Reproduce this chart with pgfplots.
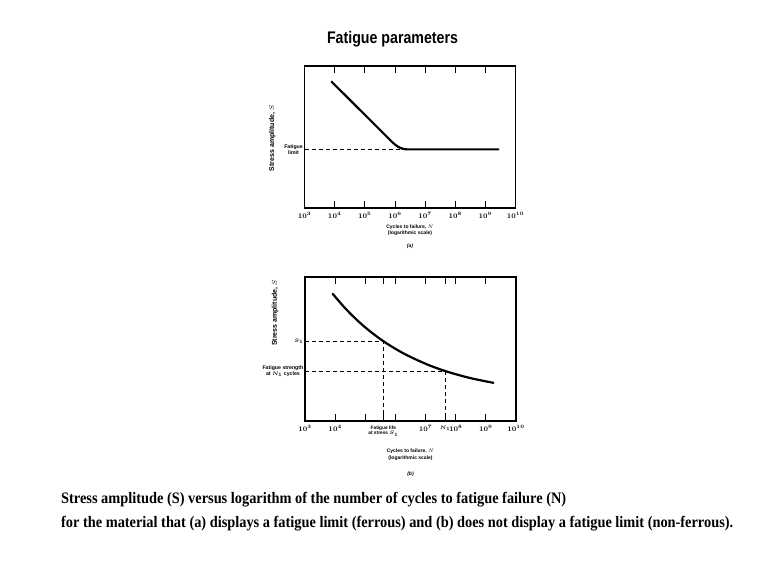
\documentclass[border=0pt]{standalone}
\usepackage{pgfplots}
\pgfplotsset{compat=1.18}
\usepackage{fontspec}
\setmainfont{Liberation Serif}
\setsansfont{Liberation Sans}
\newfontfamily\capfont{Liberation Serif}
\usepackage{graphicx}

\tikzset{
  dashline/.style={black, line width=0.9pt, dash pattern=on 4pt off 3pt},
  curveline/.style={black, line width=2.2pt, line join=round, line cap=round},
}

\begin{document}
\begin{tikzpicture}
\path[use as bounding box] (0pt,0pt) rectangle (767pt,-580pt);

\node[anchor=base, inner sep=0pt, font=\sffamily\bfseries\fontsize{16.8}{18}\selectfont] at (392.5pt,-44pt) {\scalebox{0.845}[1]{Fatigue parameters}};

% (a) with fatigue limit
\begin{axis}[
  xmode=log, log basis x=10,
  at={(304.5pt,-208pt)}, anchor=south west,
  scale only axis, width=211pt, height=142pt,
  xmin=1e3, xmax=1e10, ymin=0, ymax=1,
  xtick={1e3,1e4,1e5,1e6,1e7,1e8,1e9,1e10},
  minor x tick num=0, xminorticks=false,
  major tick length=7pt,
  axis line style={line width=1.1pt},
  xtick style={black, line width=0.8pt},
  ytick style={draw=none},
  xticklabel style={font=\fontsize{7}{8}\selectfont\boldmath, inner sep=1.5pt, yshift=-3pt},
  xlabel style={font=\sffamily\bfseries\fontsize{5}{6.5}\selectfont, align=center, inner sep=1pt, yshift=-3pt},
  ylabel style={font=\sffamily\bfseries\fontsize{7}{7}\selectfont, anchor=center, at={(axis description cs:-0.152,0.49)}},
  yticklabel style={align=center, font=\sffamily\bfseries\fontsize{5.2}{6}\selectfont, inner sep=1.5pt},
  ytick={0.413}, yticklabels={Fatigue\\limit},
  xlabel={Cycles to failure, $N$\\(logarithmic scale)\\[6pt]\textit{(a)}},
  ylabel={Stress amplitude, $S$},
]
\addplot[curveline] coordinates {(7943,0.889) (100000,0.657) (803526,0.465) (1000000,0.447) (1258925,0.432) (1584893,0.4215) (1995262,0.415) (2511886,0.413) (2.69e9,0.413)};
\addplot[dashline] coordinates {(1e3,0.413) (2511886,0.413)};
\end{axis}

% (b) without fatigue limit
\begin{axis}[
  xmode=log, log basis x=10,
  at={(305pt,-421pt)}, anchor=south west,
  scale only axis, width=211pt, height=144pt,
  xmin=1e3, xmax=1e10, ymin=0, ymax=1,
  xtick={1e3,1e4,1e5,1e6,1e7,1e8,1e9,1e10},
  minor x tick num=0, xminorticks=false,
  major tick length=7pt,
  axis line style={line width=1.1pt},
  xtick style={black, line width=0.8pt},
  ytick style={draw=none},
  xticklabel style={font=\fontsize{7}{8}\selectfont\boldmath, inner sep=1.5pt, yshift=-3pt},
  xlabel style={font=\sffamily\bfseries\fontsize{5}{6.5}\selectfont, align=center, inner sep=1pt, yshift=-10pt},
  ylabel style={font=\sffamily\bfseries\fontsize{7}{7}\selectfont, anchor=center, at={(axis description cs:-0.142,0.75)}},
  yticklabel style={align=center, font=\sffamily\bfseries\fontsize{5.2}{6}\selectfont\boldmath, inner sep=1.5pt},
  xticklabels={$10^3$,$10^4$,{},{},$10^7$,$10^8$,$10^9$,$10^{10}$},
  extra x ticks={398107,44668359},
  extra x tick labels={{Fatigue life\\at stress $S_1$},$N_1$},
  extra x tick style={xticklabel style={align=center, font=\sffamily\bfseries\fontsize{4.8}{5.6}\selectfont\boldmath}},
  ytick={0.347,0.554}, yticklabels={{Fatigue strength\\at $N_1$ cycles},$S_1$},
  xlabel={Cycles to failure, $N$\\(logarithmic scale)\\[10pt]\textit{(b)}},
  ylabel={Stress amplitude, $S$},
]
\addplot[curveline, smooth] coordinates {(8318,0.883) (20893,0.786) (52481,0.702) (131826,0.629) (398107,0.554) (1318257,0.4865) (3890451,0.436) (13182567,0.387) (44668359,0.347) (131825674,0.318) (389045145,0.293) (1778279410,0.265)};
\addplot[dashline] coordinates {(1e3,0.554) (398107,0.554) (398107,0)};
\addplot[dashline] coordinates {(1e3,0.347) (44668359,0.347) (44668359,0)};
\end{axis}

\node[anchor=base west, inner sep=0pt, font=\capfont\bfseries\fontsize{16}{18}\selectfont] at (61pt,-503pt) {\resizebox{505pt}{\height}{Stress amplitude (S) versus logarithm of the number of cycles to fatigue failure (N)}};
\node[anchor=base west, inner sep=0pt, font=\capfont\bfseries\fontsize{16}{18}\selectfont] at (61pt,-527pt) {\resizebox{672pt}{\height}{for the material that (a) displays a fatigue limit (ferrous) and (b) does not display a fatigue limit (non-ferrous).}};
\end{tikzpicture}
\end{document}
